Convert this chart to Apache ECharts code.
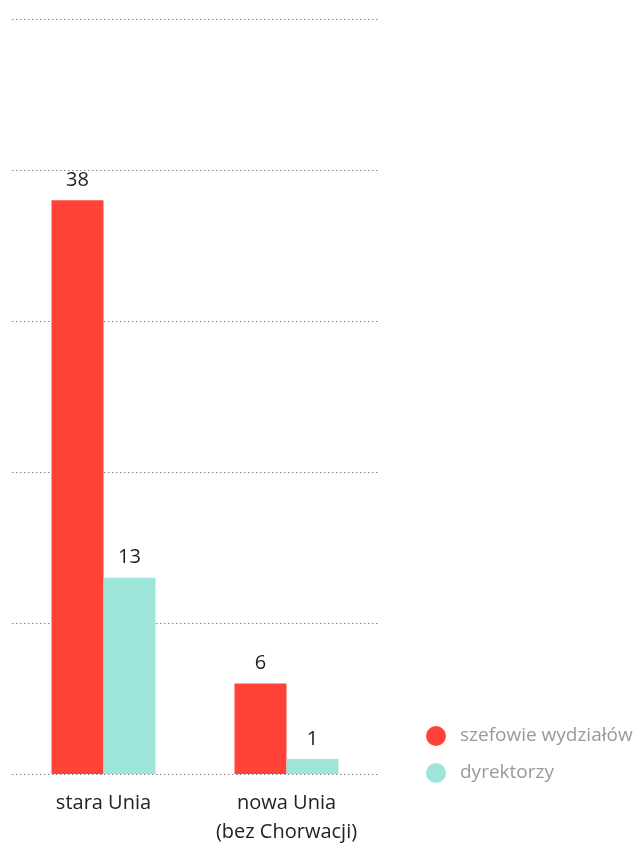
<!DOCTYPE html>
<html><head><meta charset="utf-8">
<script src="https://cdn.jsdelivr.net/npm/echarts@6/dist/echarts.min.js"></script>
<style>html,body{margin:0;padding:0;background:#fff;overflow:hidden}#c{width:638px;height:847px}</style>
</head><body><div id="c"></div>
<script>
const categories = ['stara Unia', 'nowa Unia\n(bez Chorwacji)'];
const seriesNames = ['szefowie wydziałów', 'dyrektorzy'];
const szefowie = [38, 6];
const dyrektorzy = [13, 1];

const chart = echarts.init(document.getElementById('c'));
const font = '"Open Sans", sans-serif';
chart.setOption({
  animation: false,
  textStyle: { fontFamily: font },
  grid: { left: 12, width: 366, top: 19, height: 765, containLabel: false },
  legend: {
    orient: 'vertical', left: 421, top: 721,
    icon: 'circle', itemWidth: 20, itemHeight: 20, itemGap: 17,
    textStyle: { fontSize: 19, color: '#999', fontFamily: font, padding: [0, 0, 0, 9] },
    data: seriesNames
  },
  xAxis: {
    type: 'category', data: categories,
    axisLine: { show: false }, axisTick: { show: false },
    axisLabel: { interval: 0, fontSize: 20, color: '#222', margin: 15, lineHeight: 29, fontFamily: font }
  },
  yAxis: {
    type: 'value', min: 0, max: 50, interval: 10,
    axisLabel: { show: false }, axisLine: { show: false }, axisTick: { show: false },
    splitLine: { lineStyle: { type: [1.5, 2.5], color: '#888', width: 1 } }
  },
  series: [
    { name: seriesNames[0], type: 'bar', data: szefowie, barWidth: 52, barGap: '0%',
      itemStyle: { color: '#ff4338' },
      label: { show: true, position: 'top', distance: 10, fontSize: 20, color: '#222', fontFamily: font } },
    { name: seriesNames[1], type: 'bar', data: dyrektorzy, barWidth: 52, barGap: '0%',
      itemStyle: { color: '#9ee5d9' },
      label: { show: true, position: 'top', distance: 10, fontSize: 20, color: '#222', fontFamily: font } }
  ]
});
</script></body></html>
